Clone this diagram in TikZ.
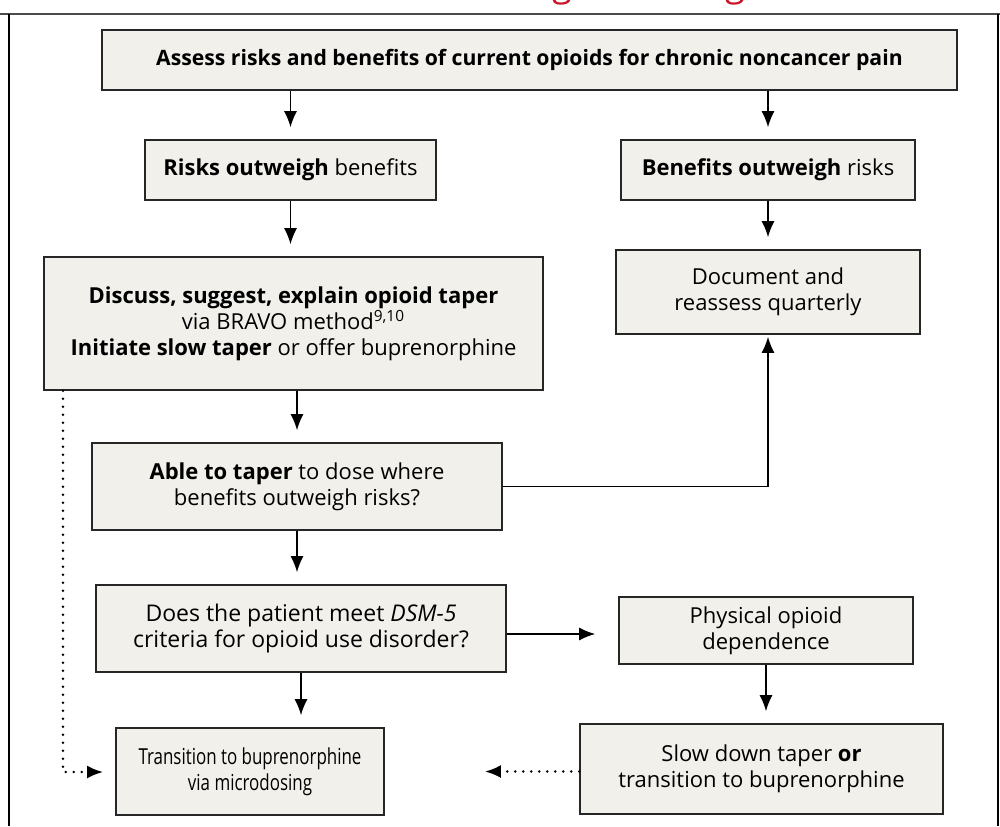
\documentclass[tikz,border=0pt]{standalone}
\usepackage{fontspec}
\setmainfont{Open Sans}
\newfontfamily\narrowfont[FakeStretch=0.77]{Open Sans}
\usetikzlibrary{arrows.meta}
\definecolor{boxfill}{RGB}{241,240,234}
\definecolor{titlered}{RGB}{204,20,40}

\begin{document}
\begin{tikzpicture}[x=0.5pt, y=-0.5pt,
	box/.style={draw=black!85, line width=0.8pt, fill=boxfill, align=center, inner sep=0pt, font=\fontsize{11}{13}\selectfont},
	arr/.style={-{Latex[length=8pt,width=6.5pt]}, line width=0.75pt, shorten >=6pt},
	dots/.style={arr, line cap=round, dash pattern=on 0pt off 4pt, line width=1.4pt},
	cut/.style={anchor=base, text=titlered, font=\fontsize{18}{18}\selectfont, inner sep=0pt}]
		\useasboundingbox (0,0) rectangle (1000,826);
		% title, cut off at the top
		\begin{scope}
			\clip (0,0) rectangle (1000,12);
			\node (g1)[cut] at (562,-4) {g};
			\node (g2)[cut] at (735,-4) {g};
		\end{scope}
		% frame
		\draw [black!70, line width=1pt](0,14) -- (1000,14);
		\draw [line width=0.8pt](9,14) -- (9,826);
		\draw [line width=0.8pt](998,14) -- (998,826);

		\node (top)[box, minimum width=427.5pt, minimum height=30pt, font=\fontsize{10.6}{13}\selectfont] at (529.5,60) {\textbf{Assess risks and benefits of current opioids for chronic noncancer pain}};
		\node (risk)[box, minimum width=145.5pt, minimum height=30pt] at (290.5,170) {\textbf{Risks outweigh} benefits};
		\node (benefit)[box, minimum width=147pt, minimum height=30pt] at (768,170) {\textbf{Benefits outweigh} risks};
		\node (discuss)[box, minimum width=249.5pt, minimum height=66.5pt] at (293.5,323.5) {\textbf{Discuss, suggest, explain opioid taper}\\via BRAVO method\textsuperscript{9,10}\\\textbf{Initiate slow taper} or offer buprenorphine};
		\node (document)[box, minimum width=152pt, minimum height=42pt] at (768,292) {Document and\\reassess quarterly};
		\node (able)[box, minimum width=205pt, minimum height=43.5pt] at (297,486.5) {\textbf{Able to taper} to dose where\\benefits outweigh risks?};
		\node (dsm)[box, minimum width=205pt, minimum height=43.5pt, font=\fontsize{11.5}{13}\selectfont] at (301,628.5) {Does the patient meet \textit{DSM-5}\\criteria for opioid use disorder?};
		\node (physical)[box, minimum width=147pt, minimum height=33.5pt] at (766,630.5) {Physical opioid\\dependence};
		\node (trans)[box, minimum width=134pt, minimum height=43.5pt, font=\narrowfont\fontsize{11}{13}\selectfont] at (250,771.5) {Transition to buprenorphine\\via microdosing};
		\node (slow)[box, minimum width=181.5pt, minimum height=45pt] at (761.5,769) {Slow down taper \textbf{or}\\transition to buprenorphine};

		\draw [arr](top.south -| risk.north) -- (risk.north);
		\draw [arr](top.south -| benefit.north) -- (benefit.north);
		\draw [arr](risk) -- (discuss.north -| risk);
		\draw [arr](benefit) -- (document);
		\draw [arr](discuss.south -| able) -- (able);
		\draw [arr, shorten >=1pt](able.east) -| (document.south);
		\draw [arr](able) -- (dsm.north -| able);
		\draw [arr, shorten >=11.5pt](dsm.east |- 0,634) -- (physical.west |- 0,634);
		\draw [arr](dsm) -- (trans.north -| dsm);
		\draw [arr](physical) -- (slow.north -| physical);

		\coordinate (corner) at (63,772);
		\draw [dots](discuss.south -| corner) -- (corner) -- (trans.west |- corner);
		\draw [dots, shorten >=50pt](slow.west |- trans.east) -- (trans.east);
	\end{tikzpicture}
\end{document}
